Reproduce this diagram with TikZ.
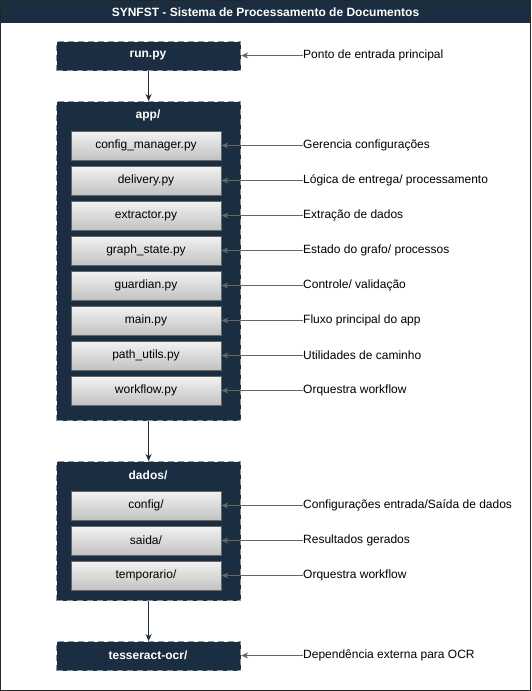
\documentclass[tikz,border=0pt]{standalone}
\usepackage{fontspec}
\setmainfont{Liberation Sans}
\usetikzlibrary{arrows.meta}
\definecolor{navy}{HTML}{1B2D40}
\definecolor{dashgray}{HTML}{8795A3}
\definecolor{linegray}{HTML}{666666}
\tikzset{
  every node/.style={font=\fontsize{12}{14}\selectfont},
  container/.style={draw=dashgray, fill=navy, line width=1.2pt, dash pattern=on 6pt off 4pt, minimum width=184pt, anchor=north west, inner sep=0pt},
  folder/.style={text=white, font=\fontsize{12}{14}\selectfont\bfseries},
  filebox/.style={draw=linegray, line width=0.8pt, top color=white!95!black, bottom color=white!76!black, minimum width=150pt, minimum height=29pt, inner sep=0pt},
  desc/.style={anchor=west, inner sep=0pt, text=black},
  descarrow/.style={draw=linegray, line width=0.8pt, -{Stealth[length=7pt,width=6pt]}},
  flowarrow/.style={draw=navy, line width=1pt, -{Stealth[length=7pt,width=6pt]}}
}
\begin{document}
\begin{tikzpicture}[x=1pt,y=-1pt]
\useasboundingbox (0,0) rectangle (531,691);
% frame and title
\draw[fill=white, draw=black!85, line width=1pt] (0.5,0.5) rectangle (530.5,690.5);
\fill[navy] (0.5,0.5) rectangle (530.5,23);
\draw[black!85, line width=1pt] (0.5,0.5) rectangle (530.5,690.5);
\node[text=white, font=\fontsize{12}{14}\selectfont\bfseries] (title) at (265.5,12) {SYNFST - Sistema de Processamento de Documentos};

% containers
\node[container, minimum height=29pt] (run) at (56,41) {};
\node[folder] (runl) at (148,55.5) {run.py};

\node[container, minimum height=319pt] (app) at (56,101) {};
\node[folder] (appl) at (148,115) {app/};

\node[container, minimum height=139pt] (dados) at (56,461) {};
\node[folder] (dadosl) at (148,475) {dados/};

\node[container, minimum height=29pt] (tess) at (56,641) {};
\node[folder] (tessl) at (148,655.5) {tesseract-ocr/};

% flow arrows
\draw[flowarrow] (run.south) -- (app.north);
\draw[flowarrow] (app.south) -- (dados.north);
\draw[flowarrow] (dados.south) -- (tess.north);

% files in app
\node[filebox] (f1) at (146,145.5) {config\_manager.py};
\node[filebox] (f2) at (146,180.5) {delivery.py};
\node[filebox] (f3) at (146,215.5) {extractor.py};
\node[filebox] (f4) at (146,250.5) {graph\_state.py};
\node[filebox] (f5) at (146,285.5) {guardian.py};
\node[filebox] (f6) at (146,320.5) {main.py};
\node[filebox] (f7) at (146,355.5) {path\_utils.py};
\node[filebox] (f8) at (146,390.5) {workflow.py};

% files in dados
\node[filebox] (d1) at (146,505.5) {config/};
\node[filebox] (d2) at (146,540.5) {saida/};
\node[filebox] (d3) at (146,575.5) {temporario/};

% descriptions
\node[desc] (l0) at (303,55.5) {Ponto de entrada principal};
\node[desc] (l1) at (303,145.5) {Gerencia configurações};
\node[desc] (l2) at (303,180.5) {Lógica de entrega/ processamento};
\node[desc] (l3) at (303,215.5) {Extração de dados};
\node[desc] (l4) at (303,250.5) {Estado do grafo/ processos};
\node[desc] (l5) at (303,285.5) {Controle/ validação};
\node[desc] (l6) at (303,320.5) {Fluxo principal do app};
\node[desc] (l7) at (303,355.5) {Utilidades de caminho};
\node[desc] (l8) at (303,390.5) {Orquestra workflow};
\node[desc] (l9) at (303,505.5) {Configurações entrada/Saída de dados};
\node[desc] (l10) at (303,540.5) {Resultados gerados};
\node[desc] (l11) at (303,575.5) {Orquestra workflow};
\node[desc] (l12) at (303,655.5) {Dependência externa para OCR};

\draw[descarrow] (l0.west) -- (run.east |- l0.west);
\foreach \i in {1,...,8} {
  \draw[descarrow] (l\i.west) -- (f\i.east |- l\i.west);
}
\draw[descarrow] (l9.west) -- (d1.east |- l9.west);
\draw[descarrow] (l10.west) -- (d2.east |- l10.west);
\draw[descarrow] (l11.west) -- (d3.east |- l11.west);
\draw[descarrow] (l12.west) -- (tess.east |- l12.west);
\end{tikzpicture}
\end{document}
